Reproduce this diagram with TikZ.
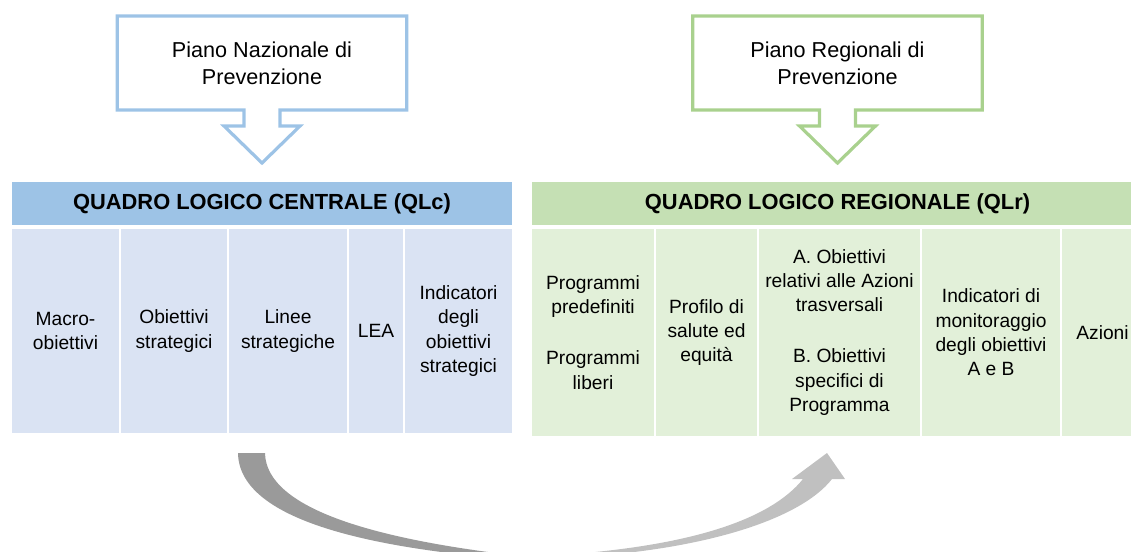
\documentclass[tikz,border=0pt]{standalone}
\usepackage{fontspec}
\setmainfont{Liberation Sans}
\usepackage{tikz}
\usetikzlibrary{calc, positioning}
\usepackage{xcolor}
\definecolor{HeadBlue}{HTML}{9DC3E6}
\definecolor{CellBlue}{HTML}{DAE3F3}
\definecolor{HeadGreen}{HTML}{C5E0B4}
\definecolor{CellGreen}{HTML}{E2F0D9}
\definecolor{LineBlue}{HTML}{9DC3E6}
\definecolor{LineGreen}{HTML}{A9D18E}
\definecolor{ArrowDark}{HTML}{9A9A9A}
\definecolor{ArrowLite}{HTML}{C0C0C0}
\tikzset{%
  callout_box/.style={%
    rectangle,%
    minimum width=217pt,%
    minimum height=70.5pt,%
    inner sep=0pt,%
    outer sep=0pt,%
    font={\fontsize{16.2}{20.25}\selectfont},%
    align=center%
  },
  callout_path/.style={%
    line width=2.4pt,%
    line join=miter,%
  },
  head_block/.style={%
    rectangle,%
    minimum height=32.25pt,%
    inner sep=0pt,%
    outer sep=0pt,%
    font={\bfseries\fontsize{16.4}{19}\selectfont},%
    align=center%
  },
  cell_block/.style={%
    rectangle,%
    inner sep=0pt,%
    outer sep=0pt,%
    font={\fontsize{14.4}{18.3}\selectfont},%
    align=center%
  },
  cell_blue/.style={%
    cell_block,%
    fill=CellBlue,%
    minimum height=153pt,%
  },
  cell_green/.style={%
    cell_block,%
    fill=CellGreen,%
    minimum height=155.25pt,%
  },
}

\begin{document}
\begin{tikzpicture}[x=0.75pt, y=-0.75pt]

    \path [use as bounding box, clip] (0,0) rectangle (1131,552);

    % headers
    \node [head_block, fill=HeadBlue, minimum width=375pt, anchor=north west]
      (QLc) at (12,182) {QUADRO LOGICO CENTRALE (QLc)};
    \node [head_block, fill=HeadGreen, minimum width=458.25pt, right = 15pt of QLc]
      (QLr) {QUADRO LOGICO REGIONALE (QLr)};

    % central columns
    \node [cell_blue, minimum width=80.25pt, below right = 3pt and 0pt of QLc.south west]
      (Macro) {Macro-\\obiettivi};
    \node [cell_blue, minimum width=79.5pt, right = 1.5pt of Macro]
      (ObStrat) {Obiettivi\\strategici};
    \node [cell_blue, minimum width=88.5pt, right = 1.5pt of ObStrat]
      (Linee) {Linee\\strategiche};
    \node [cell_blue, minimum width=40.5pt, right = 1.5pt of Linee]
      (LEA) {LEA};
    \node [cell_blue, minimum width=80.25pt, right = 1.5pt of LEA]
      (IndStrat) {Indicatori\\degli\\obiettivi\\strategici};

    % regional columns
    \node [cell_green, minimum width=91.5pt, below right = 3pt and 0pt of QLr.south west]
      (Programmi) {Programmi\\predefiniti\\[20pt]Programmi\\liberi};
    \node [cell_green, minimum width=75.75pt, right = 1.5pt of Programmi]
      (Profilo) {Profilo di\\salute ed\\equità};
    \node [cell_green, minimum width=120.75pt, right = 1.5pt of Profilo]
      (Obiettivi) {A. Obiettivi\\relativi alle Azioni\\trasversali\\[20pt]B. Obiettivi\\specifici di\\Programma};
    \node [cell_green, minimum width=103.5pt, right = 1.5pt of Obiettivi]
      (IndMon) {Indicatori di\\monitoraggio\\degli obiettivi\\A e B};
    \node [cell_green, minimum width=60.75pt, right = 1.5pt of IndMon]
      (Azioni) {Azioni};

    % callouts
    \node [callout_box, above = 54pt of QLc] (PNP) {Piano Nazionale di\\Prevenzione};
    \node [callout_box, above = 54pt of QLr] (PRP) {Piano Regionali di\\Prevenzione};

    \draw [callout_path, draw=LineBlue]
      (PNP.north west) -- (PNP.north east) -- (PNP.south east)
      -- ($(PNP.south)+(18,0)$) -- ++(0,16) -- ++(20,0)
      -- ($(PNP.south)+(0,53)$)
      -- ($(PNP.south)+(-38,16)$) -- ++(20,0) -- ++(0,-16)
      -- (PNP.south west) -- cycle;
    \draw [callout_path, draw=LineGreen]
      (PRP.north west) -- (PRP.north east) -- (PRP.south east)
      -- ($(PRP.south)+(18,0)$) -- ++(0,16) -- ++(20,0)
      -- ($(PRP.south)+(0,53)$)
      -- ($(PRP.south)+(-38,16)$) -- ++(20,0) -- ++(0,-16)
      -- (PRP.south west) -- cycle;

    % curved arrow
    \fill [ArrowDark]
      (238,453) .. controls (239,525) and (390,550) .. (520,560)
      -- (520,556) .. controls (380,540) and (266,510) .. (265,453)
      -- cycle;
    \fill [ArrowLite]
      (560,558) .. controls (700,552) and (800,520) .. (832,479)
      -- (845,479) -- (827,453) -- (792,479) -- (803,479)
      .. controls (770,520) and (690,546) .. (560,555)
      -- cycle;
  \end{tikzpicture}
\end{document}
